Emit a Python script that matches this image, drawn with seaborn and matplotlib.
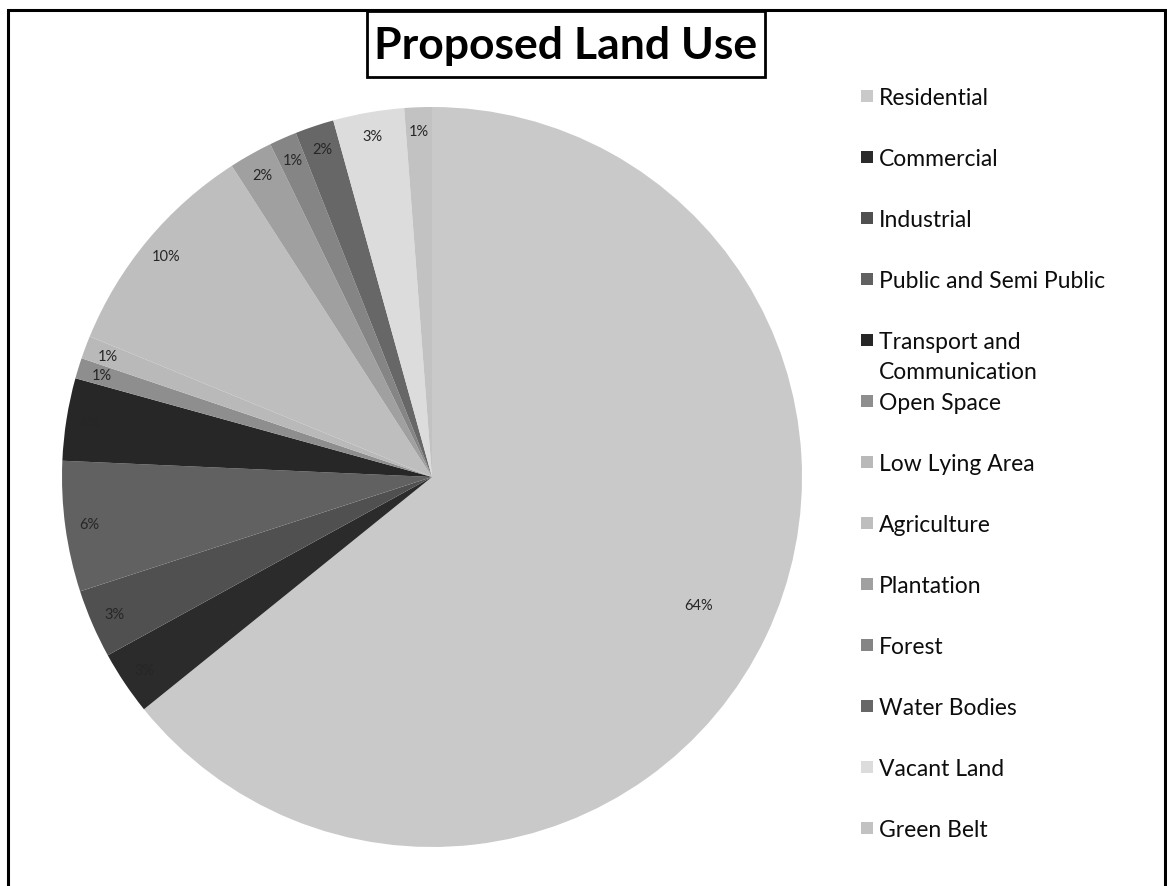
import matplotlib
matplotlib.use("Agg")
import matplotlib.pyplot as plt
from matplotlib.patches import Rectangle
import seaborn as sns

# Land use categories and their share of the total area (%)
categories = [
    "Residential", "Commercial", "Industrial", "Public and Semi Public",
    "Transport and\nCommunication", "Open Space", "Low Lying Area",
    "Agriculture", "Plantation", "Forest", "Water Bodies", "Vacant Land",
    "Green Belt",
]
shares = [64.2, 2.8, 3.0, 5.7, 3.6, 0.9, 1.0, 9.7, 1.9, 1.2, 1.7, 3.1, 1.2]
colors = [
    "#c9c9c9", "#2b2b2b", "#505050", "#616161", "#272727", "#8e8e8e",
    "#b9b9b9", "#bebebe", "#a0a0a0", "#858585", "#676767", "#dcdcdc",
    "#c2c2c2",
]

sns.set_theme(style="white")
plt.rcParams["font.family"] = ["Lato", "DejaVu Sans"]

W, H = 1167, 887
fig = plt.figure(figsize=(W / 100, H / 100), dpi=100)
fig.patch.set_facecolor("white")


def fx(px):
    return px / W


def fy(py):
    return 1 - py / H


# Pie area
cx, cy, r = 432, 478, 370
ax = fig.add_axes([fx(cx - r), fy(cy + r), 2 * r / W, 2 * r / H])
wedges, texts, autotexts = ax.pie(
    shares,
    colors=colors,
    startangle=90,
    counterclock=False,
    autopct="%.0f%%",
    pctdistance=0.935,
    wedgeprops=dict(linewidth=0),
    textprops=dict(fontsize=10.5, color="#262626"),
)
# main slice label sits further inside
x0, y0 = autotexts[0].get_position()
autotexts[0].set_position((x0 * 0.8 / 0.935, y0 * 0.8 / 0.935))
ax.set_xlim(-1, 1)
ax.set_ylim(-1, 1)
ax.set_aspect("equal")
ax.axis("off")

# Legend
lx_sw, lx_txt, ly0, lstep, sw = 861, 879, 97, 61.0, 12
for i, (name, col) in enumerate(zip(categories, colors)):
    y = ly0 + i * lstep
    fig.add_artist(Rectangle((fx(lx_sw), fy(y + sw / 2)), sw / W, sw / H,
                             transform=fig.transFigure, facecolor=col,
                             edgecolor="none"))
    fig.text(fx(lx_txt), fy(y - 9), name, fontsize=16.5, color="#0d0d0d",
             ha="left", va="top", linespacing=1.55)

# Title with its frame
fig.add_artist(Rectangle((fx(367), fy(78)), (765 - 367) / W, (78 - 12) / H,
                         transform=fig.transFigure, facecolor="white",
                         edgecolor="black", linewidth=2))
fig.text(fx(566), fy(46), "Proposed Land Use", fontsize=32,
         fontweight="bold", color="black", ha="center", va="center")

# Outer frame
fig.add_artist(Rectangle((fx(8), -0.05), (1165 - 8) / W, fy(11) + 0.05,
                         transform=fig.transFigure, fill=False,
                         edgecolor="black", linewidth=2.2))

fig.savefig("out.png", dpi=100, facecolor="white")
